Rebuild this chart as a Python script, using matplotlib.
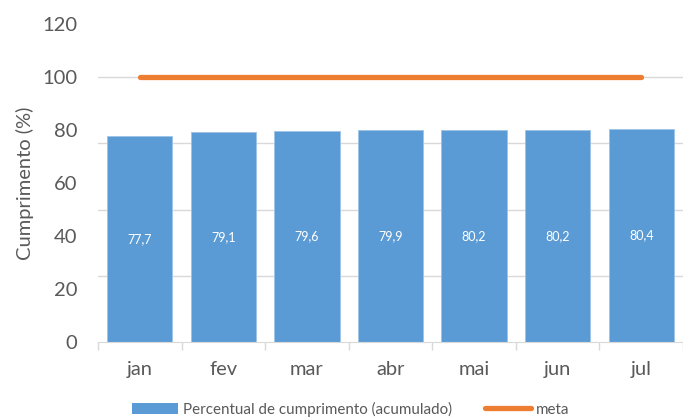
import matplotlib
matplotlib.use('Agg')
import matplotlib.pyplot as plt
import numpy as np
from matplotlib.patches import Patch
from matplotlib.lines import Line2D

# data
meses = ['jan', 'fev', 'mar', 'abr', 'mai', 'jun', 'jul']
cumprimento = [77.7, 79.1, 79.6, 79.9, 80.2, 80.2, 80.4]
meta = [100, 100, 100, 100, 100, 100, 100]
rotulos = ['77,7', '79,1', '79,6', '79,9', '80,2', '80,2', '80,4']

plt.rcParams['font.family'] = ['Lato', 'DejaVu Sans']
cinza = '#595959'
azul = '#5B9BD5'
laranja = '#ED7D31'

fig = plt.figure(figsize=(6.83, 4.2), dpi=100)
ax = fig.add_axes([0.1435, 0.1857, 0.8565, 0.757])

x = np.arange(len(meses))
bars = ax.bar(x, cumprimento, width=0.78, color=azul, edgecolor='#9DC3E6', linewidth=0.6, zorder=2)
for b, r in zip(bars, rotulos):
    ax.text(b.get_x() + b.get_width() / 2, b.get_height() / 2, r,
            ha='center', va='center', color='white', fontsize=9, zorder=3)

ax.plot(x, meta, color=laranja, linewidth=3.8, solid_capstyle='round', zorder=4)

# gridlines (Excel chart had them at quarter steps)
for g in [25, 50, 75, 100]:
    ax.axhline(g, color='#D9D9D9', linewidth=1, zorder=1)

ax.set_xlim(-0.5, len(meses) - 0.5)
ax.set_ylim(0, 120)
ax.set_yticks(np.arange(0, 121, 20))
ax.set_xticks(x)
ax.set_xticklabels(meses)
ax.set_xticks(np.arange(-0.5, len(meses), 1), minor=True)
ax.tick_params(axis='x', which='major', length=0, pad=14, labelsize=14.5, labelcolor=cinza)
ax.tick_params(axis='x', which='minor', length=6, color='#D9D9D9', width=1)
ax.tick_params(axis='y', length=0, pad=15, labelsize=14.5, labelcolor=cinza)
ax.set_ylabel('Cumprimento (%)', fontsize=14.5, color=cinza, labelpad=6)

for s in ['top', 'right', 'left']:
    ax.spines[s].set_visible(False)
ax.spines['bottom'].set_color('#D9D9D9')
ax.spines['bottom'].set_zorder(5)

handles = [Patch(facecolor=azul, edgecolor='none'),
           Line2D([0], [0], color=laranja, linewidth=3.8, solid_capstyle='round')]
fig.legend(handles, ['Percentual de cumprimento (acumulado)', 'meta'],
           loc='lower center', bbox_to_anchor=(0.514, -0.025), ncol=2, frameon=False,
           fontsize=10.9, handlelength=3.0, handleheight=0.8, columnspacing=2.2,
           handletextpad=0.35, labelcolor=cinza)

fig.savefig('out.png', dpi=100)
